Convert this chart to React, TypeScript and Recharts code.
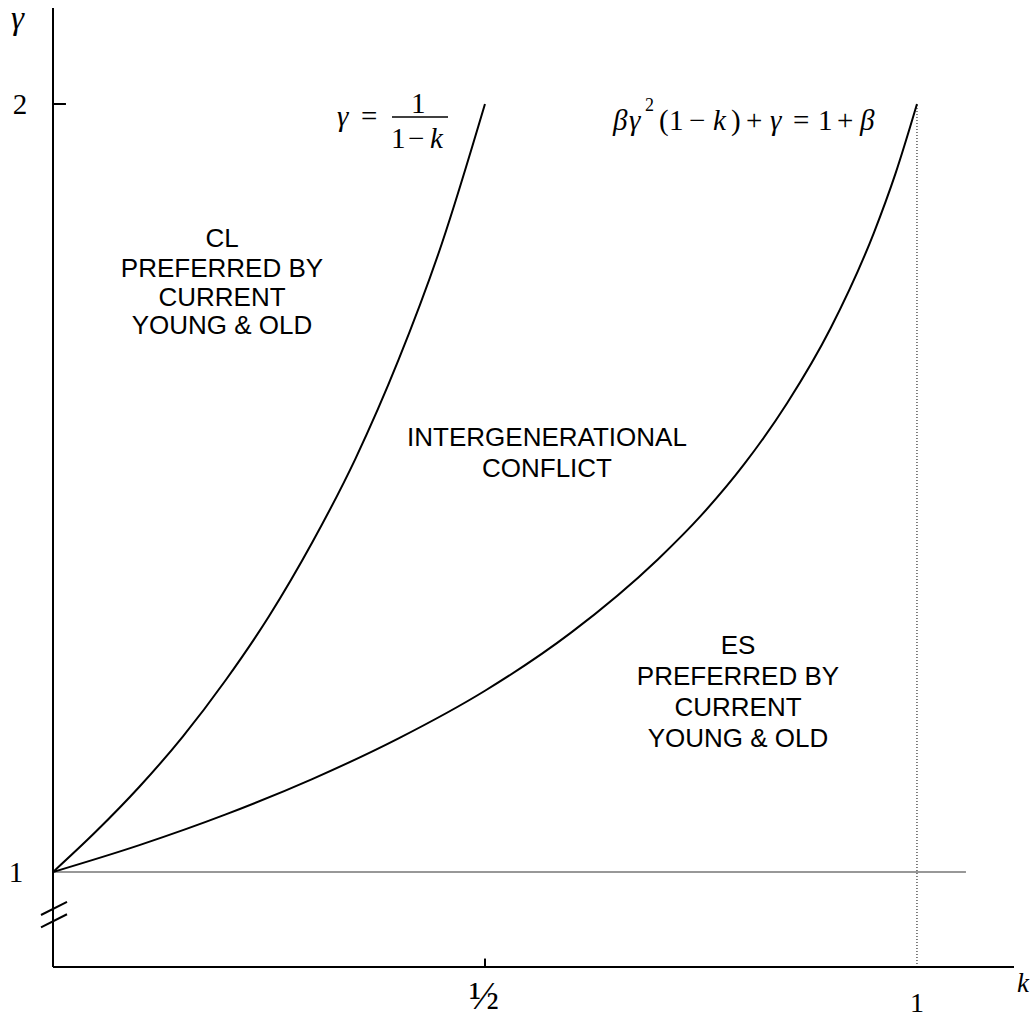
import React from 'react';
import { ComposedChart, Line, XAxis, YAxis, ReferenceLine, Customized } from 'recharts';

// Curve γ = 1/(1-k)  (CL / conflict boundary)
const clK = [0, 0.05, 0.1, 0.15, 0.2, 0.25, 0.3, 0.35, 0.4, 0.45, 0.5];
const clGamma = [1.0, 1.053, 1.111, 1.176, 1.25, 1.333, 1.429, 1.538, 1.667, 1.818, 2.0];

// Curve βγ²(1-k)+γ = 1+β  (conflict / ES boundary)
const esK = [0, 0.1, 0.2, 0.3, 0.4, 0.5, 0.6, 0.7, 0.75, 0.8, 0.85, 0.9, 0.95, 0.975, 1.0];
const esGamma = [1.0, 1.035, 1.075, 1.121, 1.174, 1.236, 1.312, 1.407, 1.464, 1.531, 1.611, 1.708, 1.832, 1.909, 2.0];

const xTickValues = [0.5, 1];
const xTickLabels = ['½', '1'];
const yTickValues = [1, 2];
const yTickLabels = ['1', '2'];

const kDomain: [number, number] = [0, 1.1123];
const gammaDomain: [number, number] = [0.8763, 2.125];

const baseLineK = [0, 1.0567];
const dottedK = 1;
const breakTop = [
  { x: -0.0139, y: 0.944 },
  { x: 0.0162, y: 0.961 },
];
const breakBottom = [
  { x: -0.0139, y: 0.928 },
  { x: 0.0162, y: 0.945 },
];

const clData = clK.map((k, i) => ({ k, g: clGamma[i] }));
const esData = esK.map((k, i) => ({ k, g: esGamma[i] }));

const SERIF = '"Liberation Serif", "Times New Roman", serif';
const SANS = '"Liberation Sans", Arial, sans-serif';

const XTick = (props: any) => {
  const { x, y, payload } = props;
  const idx = xTickValues.indexOf(payload.value);
  const label = xTickLabels[idx];
  if (label === '½') {
    return (
      <text x={x - 1} y={y + 42} textAnchor="middle" fontFamily={SERIF} fontSize={40} fill="#000">
        {label}
      </text>
    );
  }
  return (
    <text x={x} y={y + 45} textAnchor="middle" fontFamily={SERIF} fontSize={28} fill="#000">
      {label}
    </text>
  );
};

const YTick = (props: any) => {
  const { x, y, payload } = props;
  const idx = yTickValues.indexOf(payload.value);
  const label = yTickLabels[idx];
  return (
    <text x={x - (label === '1' ? 37 : 33)} y={y + 10} textAnchor="middle" fontFamily={SERIF} fontSize={29} fill="#000">
      {label}
    </text>
  );
};

const Annotations = () => (
  <g>
    {/* axis names */}
    <text x={11} y={29} fontFamily={SERIF} fontStyle="italic" fontSize={33} fill="#000">γ</text>
    <text x={1017} y={992} fontFamily={SERIF} fontStyle="italic" fontSize={27} fill="#000">k</text>

    {/* γ = 1/(1-k) */}
    <text fontFamily={SERIF} fontSize={29} fill="#000">
      <tspan x={337} y={126} fontStyle="italic">γ</tspan>
      <tspan x={361} y={126}>=</tspan>
      <tspan x={411} y={113}>1</tspan>
      <tspan x={391} y={148}>1</tspan>
      <tspan x={408} y={148}>−</tspan>
      <tspan x={430} y={148} fontStyle="italic">k</tspan>
    </text>
    <line x1={392} y1={117} x2={448} y2={117} stroke="#000" strokeWidth={1.4} />

    {/* βγ²(1-k)+γ = 1+β */}
    <text fontFamily={SERIF} fontSize={29} fill="#000">
      <tspan x={613} y={130} fontStyle="italic">β</tspan>
      <tspan x={629} y={130} fontStyle="italic">γ</tspan>
      <tspan x={645} y={111} fontSize={18}>2</tspan>
      <tspan x={659} y={130}>(</tspan>
      <tspan x={669} y={130}>1</tspan>
      <tspan x={689} y={130}>−</tspan>
      <tspan x={713} y={130} fontStyle="italic">k</tspan>
      <tspan x={731} y={130}>)</tspan>
      <tspan x={746} y={130}>+</tspan>
      <tspan x={770} y={130} fontStyle="italic">γ</tspan>
      <tspan x={793} y={130}>=</tspan>
      <tspan x={818} y={130}>1</tspan>
      <tspan x={837} y={130}>+</tspan>
      <tspan x={860} y={130} fontStyle="italic">β</tspan>
    </text>

    {/* region labels */}
    <text fontFamily={SANS} fontSize={26} fill="#000" textAnchor="middle">
      <tspan x={222} y={247}>CL</tspan>
      <tspan x={222} y={277}>PREFERRED BY</tspan>
      <tspan x={222} y={306}>CURRENT</tspan>
      <tspan x={222} y={334}>YOUNG &amp; OLD</tspan>
    </text>
    <text fontFamily={SANS} fontSize={26} fill="#000" textAnchor="middle">
      <tspan x={547} y={446}>INTERGENERATIONAL</tspan>
      <tspan x={547} y={477}>CONFLICT</tspan>
    </text>
    <text fontFamily={SANS} fontSize={26} fill="#000" textAnchor="middle">
      <tspan x={738} y={654}>ES</tspan>
      <tspan x={738} y={685}>PREFERRED BY</tspan>
      <tspan x={738} y={716}>CURRENT</tspan>
      <tspan x={738} y={747}>YOUNG &amp; OLD</tspan>
    </text>
  </g>
);

export default function App() {
  return (
    <div style={{ position: 'absolute', left: 0, top: 0, background: '#fff' }}>
      <ComposedChart
        width={1036}
        height={1017}
        margin={{ top: 8, right: 22, bottom: 0, left: 0 }}
      >
        <XAxis
          type="number"
          dataKey="k"
          domain={kDomain}
          allowDataOverflow
          ticks={xTickValues}
          tick={<XTick />}
          tickLine={false}
          tickSize={0}
          tickMargin={0}
          height={50}
          interval={0}
          axisLine={{ stroke: '#000', strokeWidth: 2 }}
        />
        <YAxis
          type="number"
          dataKey="g"
          domain={gammaDomain}
          allowDataOverflow
          ticks={yTickValues}
          tick={<YTick />}
          tickLine={false}
          tickSize={0}
          tickMargin={0}
          width={53}
          interval={0}
          axisLine={{ stroke: '#000', strokeWidth: 2 }}
        />
        <ReferenceLine
          segment={[{ x: baseLineK[0], y: 1 }, { x: baseLineK[1], y: 1 }]}
          stroke="#333"
          strokeWidth={1.2}
        />
        <ReferenceLine
          segment={[{ x: dottedK, y: gammaDomain[0] }, { x: dottedK, y: 2 }]}
          stroke="#000"
          strokeWidth={1}
          strokeDasharray="1 2"
        />
        <ReferenceLine
          segment={[{ x: 0, y: 2 }, { x: 0.015, y: 2 }]}
          stroke="#000"
          strokeWidth={2}
        />
        <ReferenceLine
          segment={[{ x: 0.5, y: gammaDomain[0] }, { x: 0.5, y: gammaDomain[0] + 0.011 }]}
          stroke="#000"
          strokeWidth={2}
        />
        <ReferenceLine segment={breakTop} stroke="#000" strokeWidth={2} ifOverflow="visible" />
        <ReferenceLine segment={breakBottom} stroke="#000" strokeWidth={2} ifOverflow="visible" />
        <Line
          data={clData}
          dataKey="g"
          type="monotone"
          stroke="#000"
          strokeWidth={2}
          dot={false}
          activeDot={false}
          isAnimationActive={false}
        />
        <Line
          data={esData}
          dataKey="g"
          type="monotone"
          stroke="#000"
          strokeWidth={2}
          dot={false}
          activeDot={false}
          isAnimationActive={false}
        />
        <Customized component={Annotations} />
      </ComposedChart>
    </div>
  );
}
